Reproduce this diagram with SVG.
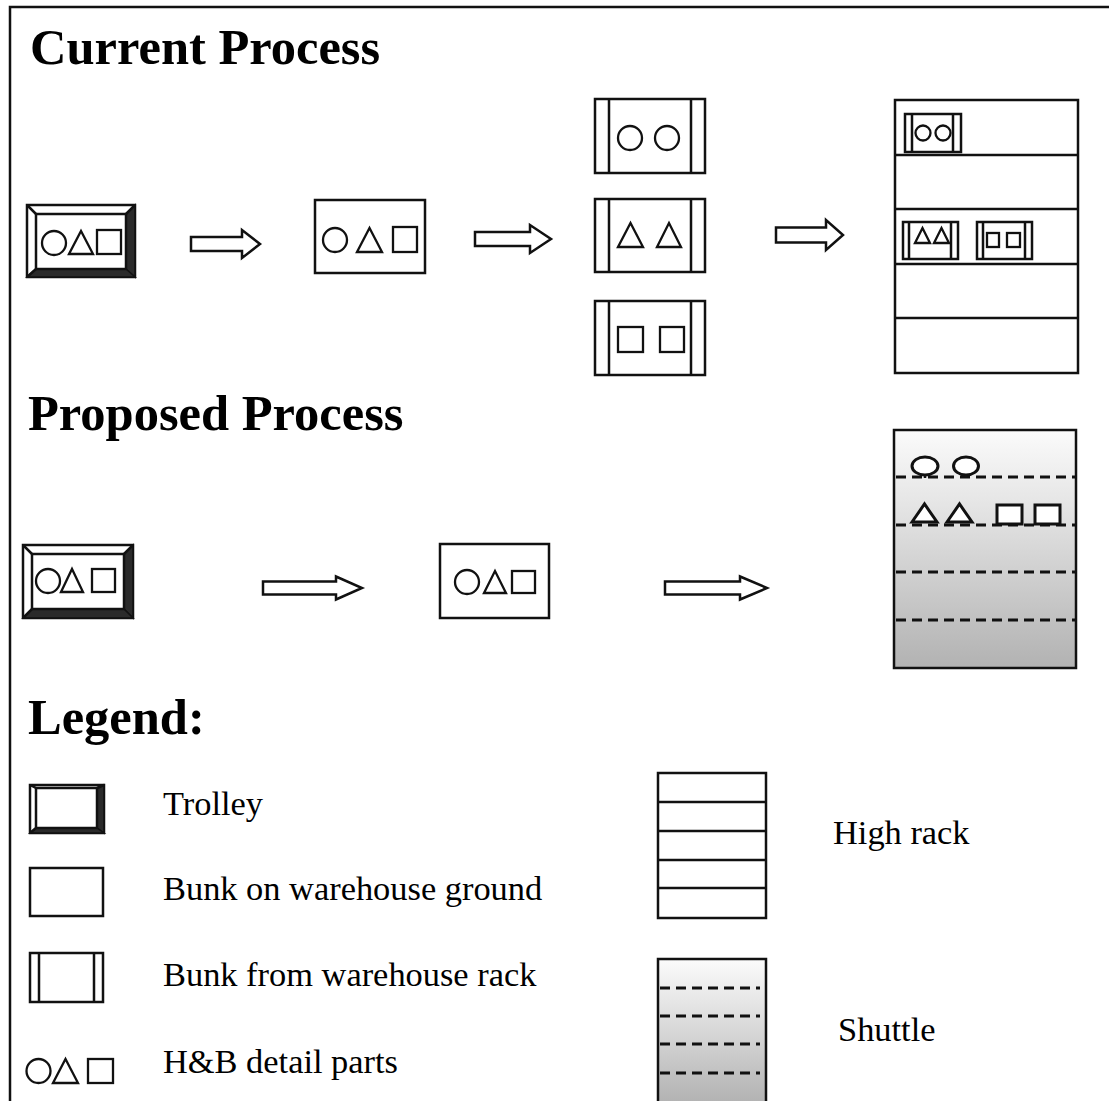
<svg xmlns="http://www.w3.org/2000/svg" width="1109" height="1101" viewBox="0 0 1109 1101">
  <defs>
    <linearGradient id="shuttleFill" x1="0" y1="0" x2="0" y2="1">
      <stop offset="0" stop-color="#fbfbfb"/>
      <stop offset="0.3" stop-color="#e6e6e6"/>
      <stop offset="1" stop-color="#b2b2b2"/>
    </linearGradient>
    <style>
      .ln { fill: none; stroke: #111; stroke-width: 2.5; }
      .box { fill: #fff; stroke: #111; stroke-width: 2.5; }
      .part { fill: #fff; stroke: #111; stroke-width: 2.3; }
      .spart { fill: #fff; stroke: #111; stroke-width: 3; }
      .dark { fill: #2a2a2a; stroke: #111; stroke-width: 1.5; }
      .dash { fill: none; stroke: #111; stroke-width: 3; stroke-dasharray: 10 6; }
      .arrow { fill: #fff; stroke: #111; stroke-width: 2.5; stroke-linejoin: miter; }
      .title { font-family: "Liberation Serif", "Times New Roman", serif; font-weight: bold; font-size: 50.5px; fill: #000; }
      .lbl { font-family: "Liberation Serif", "Times New Roman", serif; font-size: 34.4px; fill: #000; }
    </style>
  </defs>

  <rect width="1109" height="1101" fill="#fff"/>
  <!-- outer frame (top and left edges) -->
  <path class="ln" d="M10 1101 V7 H1109"/>

  <!-- headings -->
  <text class="title" x="30" y="64">Current Process</text>
  <text class="title" x="28" y="430">Proposed Process</text>
  <text class="title" x="28" y="734">Legend:</text>

  <!-- ===== Current process ===== -->
  <g id="cur-trolley">
    <rect class="box" x="27" y="205" width="108" height="72"/>
    <path class="dark" d="M135 205 L135 277 L126 269 L126 214 Z"/>
    <path class="dark" d="M27 277 L135 277 L126 269 L36 269 Z"/>
    <rect class="ln" x="36" y="214" width="90" height="55"/>
    <path class="ln" d="M27 205 L36 214 M135 205 L126 214 M27 277 L36 269"/>
    <circle class="part" cx="54" cy="243" r="12"/>
    <path class="part" d="M69 254 L81 231 L93 254 Z"/>
    <rect class="part" x="97" y="230" width="24" height="24"/>
  </g>

  <g id="cur-bunk">
    <rect class="box" x="315" y="200" width="110" height="73"/>
    <circle class="part" cx="335" cy="240" r="12"/>
    <path class="part" d="M357 252 L369.5 228 L382 252 Z"/>
    <rect class="part" x="393" y="227" width="24" height="25"/>
  </g>

  <g id="cur-rack-bunk-circles">
    <rect class="box" x="595" y="99" width="110" height="74"/>
    <path class="ln" d="M609 99 V173 M691 99 V173"/>
    <circle class="part" cx="630" cy="138" r="12"/>
    <circle class="part" cx="667" cy="138" r="12"/>
  </g>
  <g id="cur-rack-bunk-triangles">
    <rect class="box" x="595" y="199" width="110" height="73"/>
    <path class="ln" d="M609 199 V272 M691 199 V272"/>
    <path class="part" d="M618 247 L630.5 223 L643 247 Z"/>
    <path class="part" d="M657 247 L669 223 L681 247 Z"/>
  </g>
  <g id="cur-rack-bunk-squares">
    <rect class="box" x="595" y="301" width="110" height="74"/>
    <path class="ln" d="M609 301 V375 M691 301 V375"/>
    <rect class="part" x="618" y="327" width="25" height="25"/>
    <rect class="part" x="660" y="327" width="24" height="25"/>
  </g>

  <g id="cur-high-rack">
    <rect class="box" x="895" y="100" width="183" height="273"/>
    <path class="ln" d="M895 155 H1078 M895 209 H1078 M895 264 H1078 M895 318 H1078"/>
    <rect class="box" x="905" y="114" width="56" height="38"/>
    <path class="ln" d="M912 114 V152 M953 114 V152"/>
    <circle class="part" cx="923" cy="133" r="7.5" stroke-width="2"/>
    <circle class="part" cx="943" cy="133" r="7.5" stroke-width="2"/>
    <rect class="box" x="903" y="222" width="55" height="37"/>
    <path class="ln" d="M909 222 V259 M951 222 V259"/>
    <path class="part" d="M915 243 L922.5 228 L930 243 Z" stroke-width="2"/>
    <path class="part" d="M934 243 L941.5 228 L949 243 Z" stroke-width="2"/>
    <rect class="box" x="977" y="222" width="55" height="37"/>
    <path class="ln" d="M983 222 V259 M1025 222 V259"/>
    <rect class="part" x="987" y="233" width="12" height="14" stroke-width="2"/>
    <rect class="part" x="1007" y="233" width="13" height="14" stroke-width="2"/>
  </g>

  <!-- ===== Proposed process ===== -->
  <g id="prop-trolley">
    <rect class="box" x="23" y="545" width="110" height="73"/>
    <path class="dark" d="M133 545 L133 618 L124 609 L124 554 Z"/>
    <path class="dark" d="M23 618 L133 618 L124 609 L32 609 Z"/>
    <rect class="ln" x="32" y="554" width="92" height="55"/>
    <path class="ln" d="M23 545 L32 554 M133 545 L124 554 M23 618 L32 609"/>
    <circle class="part" cx="48" cy="581" r="12"/>
    <path class="part" d="M61 592 L72 569 L83 592 Z"/>
    <rect class="part" x="92" y="569" width="23" height="23"/>
  </g>

  <g id="prop-bunk">
    <rect class="box" x="440" y="544" width="109" height="74"/>
    <circle class="part" cx="467" cy="582" r="12"/>
    <path class="part" d="M484 593 L495 571 L506 593 Z"/>
    <rect class="part" x="512" y="571" width="23" height="22"/>
  </g>

  <g id="prop-shuttle">
    <rect x="894" y="430" width="182" height="238" fill="url(#shuttleFill)" stroke="#111" stroke-width="2.5"/>
    <path class="dash" d="M896 477 H1076 M896 525 H1076 M896 572 H1076 M896 620 H1076"/>
    <ellipse class="spart" cx="925" cy="466" rx="13" ry="9"/>
    <ellipse class="spart" cx="966" cy="466" rx="12.5" ry="9"/>
    <path class="ln" d="M925 475 V478 M966 475 V478" stroke-width="3"/>
    <path class="spart" d="M912 522 L924.5 504 L937 522 Z"/>
    <path class="spart" d="M947 522 L959.5 504 L972 522 Z"/>
    <rect class="spart" x="997" y="505" width="25" height="19"/>
    <rect class="spart" x="1035" y="505" width="25" height="19"/>
  </g>

  <!-- ===== Legend ===== -->
  <g id="leg-trolley">
    <rect class="box" x="30" y="785" width="74" height="48"/>
    <path class="dark" d="M104 785 L104 833 L97 828 L97 788 Z"/>
    <path class="dark" d="M30 833 L104 833 L97 828 L36 828 Z"/>
    <rect class="ln" x="36" y="788" width="61" height="40"/>
    <path class="ln" d="M30 785 L36 788 M104 785 L97 788 M30 833 L36 828"/>
  </g>
  <text class="lbl" x="163" y="815">Trolley</text>

  <g id="leg-bunk-ground">
    <rect class="box" x="30" y="868" width="73" height="48"/>
  </g>
  <text class="lbl" x="163" y="900">Bunk on warehouse ground</text>

  <g id="leg-bunk-rack">
    <rect class="box" x="30" y="953" width="73" height="49"/>
    <path class="ln" d="M39 953 V1002 M94 953 V1002"/>
  </g>
  <text class="lbl" x="163" y="986">Bunk from warehouse rack</text>

  <g id="leg-parts">
    <circle class="part" cx="38.5" cy="1071" r="12"/>
    <path class="part" d="M53 1083 L65.5 1059 L78 1083 Z"/>
    <rect class="part" x="88" y="1059" width="25" height="24"/>
  </g>
  <text class="lbl" x="163" y="1073">H&amp;B detail parts</text>

  <g id="leg-high-rack">
    <rect class="box" x="658" y="773" width="108" height="145"/>
    <path class="ln" d="M658 802 H766 M658 831 H766 M658 860 H766 M658 888 H766"/>
  </g>
  <text class="lbl" x="833" y="844">High rack</text>

  <g id="leg-shuttle">
    <path d="M658 1103 V959 H766 V1103" fill="url(#shuttleFill)" stroke="#111" stroke-width="2.5"/>
    <path class="dash" d="M660 988 H760 M660 1016 H760 M660 1044 H760 M660 1073 H760"/>
  </g>
  <text class="lbl" x="838" y="1041">Shuttle</text>

  <!-- ===== connectors ===== -->
  <g id="connectors">
    <path class="arrow" d="M191 237 H242 V230 L260 244 L242 258 V251 H191 Z"/>
    <path class="arrow" d="M475 232 H530 V225 L551 239 L530 253 V246 H475 Z"/>
    <path class="arrow" d="M776 227.5 H826 V220 L843 235 L826 250 V242.5 H776 Z"/>
    <path class="arrow" d="M263 581.5 H336 V576.5 L362 588 L336 599.5 V594.5 H263 Z"/>
    <path class="arrow" d="M665 581.5 H740 V576.5 L767 588 L740 599.5 V594.5 H665 Z"/>
  </g>
</svg>
